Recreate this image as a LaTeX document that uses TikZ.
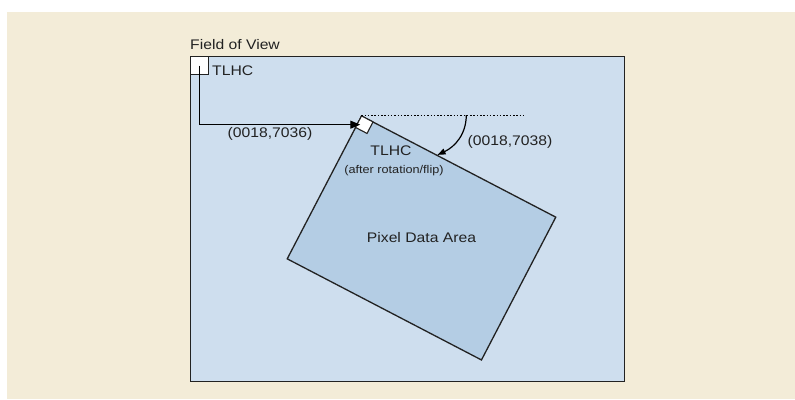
\documentclass[tikz,border=0pt]{standalone}
\usepackage{fontspec}
\setmainfont{Liberation Sans}[FakeStretch=1.13]
\definecolor{fovbeige}{RGB}{243,236,216}
\definecolor{fovblue}{RGB}{206,222,238}
\definecolor{pixblue}{RGB}{180,205,228}
\definecolor{inkgray}{RGB}{34,34,34}
\usetikzlibrary{arrows.meta, positioning, calc}

\begin{document}
\begin{tikzpicture}[x=1pt, y=1pt,
    area/.style={draw=inkgray, line width=1.3pt, inner sep=0pt},
    corner/.style={draw=inkgray, fill=white, line width=1.1pt, inner sep=0pt, minimum size=#1},
    lbl/.style={text=inkgray, font=\fontsize{13.9}{16}\selectfont, inner sep=0pt},
    small/.style={text=inkgray, font=\fontsize{11.2}{13}\selectfont, inner sep=0pt},
    conn/.style={draw=black, line width=1.2pt}]
  \useasboundingbox (0,0) rectangle (795,399);
  \fill[fovbeige] (7,0) rectangle (795,387);

  % field of view and the rotated data area
  \node[area, fill=fovblue, minimum width=434pt, minimum height=325pt, anchor=north west] (fov) at (190,343) {};
  \node[corner=18pt, anchor=north west] (tlhc) at (fov.north west) {};
  \node[area, fill=pixblue, minimum width=219pt, minimum height=161pt, rotate=-27.5] (pix) at (421.5,161) {};
  \node[corner=13pt, rotate=-27.5, anchor=north west] (rotcorner) at (pix.north west) {};

  \node[lbl, anchor=base west] (fovlabel) at (190,349.5) {Field of View};
  \node[lbl, anchor=base west] (tlhclabel) at (212,323.3) {TLHC};
  \node[lbl] (pixlabel) at (pix.center) {Pixel Data Area};
  \node[lbl, anchor=base] (rotlabel) at (391,243) {TLHC};
  \node[small, anchor=base] (rotnote) at (394,225) {(after rotation/flip)};
  \node[lbl] (offset) at (270,265) {(0018,7036)};
  \node[lbl] (angle) at (510,257) {(0018,7038)};

  % offset and rotation
  \draw[conn, -{Triangle[length=10pt,width=8pt]}, shorten >=4pt] (tlhc.center) |- (rotcorner.center);
  \draw[conn, dash pattern=on 1.5pt off 1.8pt] (pix.north west) -- ++(163,0) coordinate (dotend);
  \coordinate (arcstart) at ($(pix.north west)+(105,0)$);
  \coordinate (arcend) at ($(pix.north west)!86pt!(pix.north east)$);
  \draw[conn, -{Triangle[length=8pt,width=6pt]}] (arcstart) to[out=-90, in=25] (arcend);
\end{tikzpicture}
\end{document}
